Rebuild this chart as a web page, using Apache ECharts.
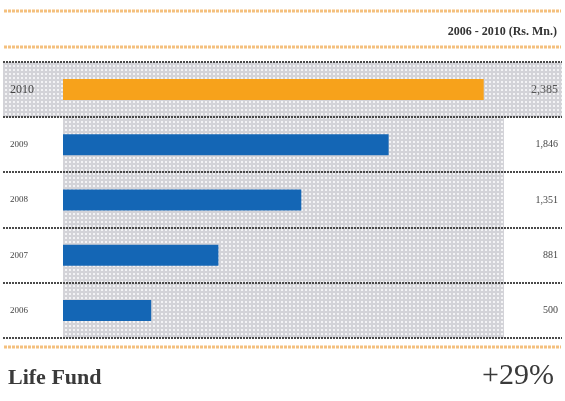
<!DOCTYPE html>
<html><head><meta charset="utf-8">
<script src="https://cdn.jsdelivr.net/npm/echarts@6/dist/echarts.min.js"></script>
<style>html,body{margin:0;padding:0;background:#fff}#c{width:565px;height:401px}</style>
</head><body><div id="c"></div>
<script>
var years = ['2010','2009','2008','2007','2006'];
var values = [2385, 1846, 1351, 881, 500];
var headerText = '2006 - 2010 (Rs. Mn.)';
var titleText = 'Life Fund';
var growthText = '+29%';

function makePattern(bg, dot){
  var cv = document.createElement('canvas'); cv.width = 4; cv.height = 4;
  var ctx = cv.getContext('2d');
  ctx.fillStyle = bg; ctx.fillRect(0,0,4,4);
  ctx.fillStyle = dot; ctx.fillRect(1,1,2,2);
  return {image: cv, repeat: 'repeat'};
}
var pat = makePattern('#d3d3d8', '#f3f3f5');

var gridTop = 62, gridBottomY = 338, rowH = (gridBottomY - gridTop) / years.length;
var serif = '"Liberation Serif","DejaVu Serif",serif';

var graphics = [
  {type:'rect', shape:{x:3,y:gridTop,width:559,height:rowH}, style:{fill:pat}, z:-1},
  {type:'line', shape:{x1:4,y1:11,x2:561,y2:11}, style:{stroke:'#f4c07e',lineWidth:3,lineDash:[3,1]}},
  {type:'line', shape:{x1:4,y1:47,x2:561,y2:47}, style:{stroke:'#f4c07e',lineWidth:3,lineDash:[3,1]}},
  {type:'line', shape:{x1:4,y1:347,x2:561,y2:347}, style:{stroke:'#f4c07e',lineWidth:3,lineDash:[3,1]}},
  {type:'text', style:{text:headerText, x:557, y:32, align:'right', verticalAlign:'middle', font:'bold 12px '+serif, fill:'#333'}},
  {type:'text', style:{text:titleText, x:8, y:378, align:'left', verticalAlign:'middle', font:'bold 22px '+serif, fill:'#3a3a3a'}},
  {type:'text', style:{text:growthText, x:554, y:376, align:'right', verticalAlign:'middle', font:'30px '+serif, fill:'#3a3a3a'}}
];
for (var i=0;i<=years.length;i++){
  var yy = Math.round(gridTop + i*rowH);
  graphics.push({type:'line', shape:{x1:3,y1:yy,x2:562,y2:yy}, style:{stroke:'#4a4a4a',lineWidth:2,lineDash:[2,1]}, z:5});
}

var chart = echarts.init(document.getElementById('c'), null, {renderer:'canvas'});
chart.setOption({
  animation:false,
  grid:{left:63, right:61, top:gridTop, bottom:401-gridBottomY, show:true, backgroundColor:pat, borderWidth:0},
  xAxis:{type:'value', min:0, max:2500, show:false},
  yAxis:[
    {type:'category', data:years, inverse:true, axisLine:{show:false}, axisTick:{show:false},
     axisLabel:{align:'left', margin:53, fontFamily:serif, fontSize:9, color:'#444',
       formatter:function(v,idx){return idx===0?'{big|'+v+'}':v;},
       rich:{big:{fontSize:12, fontFamily:serif, color:'#444'}}}},
    {type:'category', data:values.map(function(v){return v.toLocaleString('en-US');}), inverse:true, position:'right',
     axisLine:{show:false}, axisTick:{show:false},
     axisLabel:{align:'right', margin:54, fontFamily:serif, fontSize:10, color:'#444',
       formatter:function(v,idx){return idx===0?'{big|'+v+'}':v;},
       rich:{big:{fontSize:12, fontFamily:serif, color:'#555'}}}}
  ],
  series:[{type:'bar', yAxisIndex:0, barWidth:21,
    data: values.map(function(v,i){return {value:v, itemStyle:{color: i===0?'#f7a21b':'#1466b5'}};})}],
  graphic: graphics
});
</script></body></html>
